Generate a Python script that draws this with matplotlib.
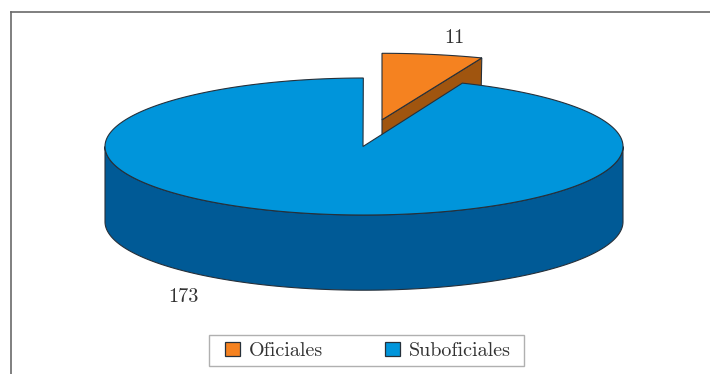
import numpy as np
import matplotlib
matplotlib.use("Agg")
import matplotlib.pyplot as plt
from matplotlib.patches import Polygon, Patch, Rectangle

categories = ["Oficiales", "Suboficiales"]
values = [11, 173]
top_colors = ["#F58220", "#0095DB"]
side_colors = ["#A0550F", "#005A96"]
edge = "#26303a"

W, H = 710, 374
fig = plt.figure(figsize=(W / 100, H / 100), dpi=100)
ax = fig.add_axes([10.5 / W, 0, 1 - 10.5 / W, (H - 12) / H])
ax.set_xlim(10.5, W)
ax.set_ylim(H, 12)
ax.set_xticks([])
ax.set_yticks([])
for s in ["right", "bottom"]:
    ax.spines[s].set_visible(False)
for s in ["left", "top"]:
    ax.spines[s].set_color("#6a6a6a")
    ax.spines[s].set_linewidth(1.2)

cx, cy, rx, ry, depth = 364.0, 146.5, 259.0, 68.5, 75.2
apex_x = 363.0
ox, oy, orx, ory = 382.0, 119.8, 272.0, 66.5

frac = values[0] / sum(values) * 360
a_end = 90 - frac  # orange runs clockwise from 12 o'clock
b_end = a_end - 0.8  # blue cut sits slightly further round in the projection


def arc(x0, y0, a, b, ra, rb, n=200):
    t = np.radians(np.linspace(a, b, n))
    return np.column_stack([x0 + ra * np.cos(t), y0 - rb * np.sin(t)])


lw = 0.8
# orange slice: side face (lower part hidden by the blue top)
p_a = arc(ox, oy, a_end, a_end, orx, ory, 1)[0]
ax.add_patch(Polygon([(ox, oy), p_a, (p_a[0] - 1.5, p_a[1] + depth), (ox, oy + depth)],
                     closed=True, fc=side_colors[0], ec=edge, lw=lw, zorder=2))
ax.add_patch(Polygon(np.vstack([[(ox, oy)], arc(ox, oy, a_end, 90, orx, ory)]),
                     closed=True, fc=top_colors[0], ec=edge, lw=lw, zorder=3))

# blue slice: side wall + top
front = arc(cx, cy, 180, 360, rx, ry)
back = arc(cx, cy + depth, 360, 180, rx, ry)
ax.add_patch(Polygon(np.vstack([front, back]), closed=True,
                     fc=side_colors[1], ec=edge, lw=lw, zorder=4))
ax.add_patch(Polygon(np.vstack([[(apex_x, cy)],
                                arc(cx, cy, 90 + 0.15, b_end + 360, rx, ry, 500)]),
                     closed=True, fc=top_colors[1], ec=edge, lw=lw, zorder=5))

font = dict(family="cmr10", color="#333333", fontsize=14.5)
ax.text(454.5, 38, str(values[0]), ha="center", va="center", zorder=6, **font)
ax.text(183, 297, str(values[1]), ha="center", va="center", zorder=6, **font)

# legend frame is wider than its padding would give
ax.add_patch(Rectangle((209, 335), 315, 31, fc="white", ec="#b0b0b0", lw=1.0, zorder=6))
handles = [Patch(fc=c, ec=edge, lw=0.9) for c in top_colors]
leg = ax.legend(handles, categories, ncol=2, loc="center",
                bbox_to_anchor=(368, 351), bbox_transform=ax.transData,
                prop={"family": "cmr10", "size": 14.5}, labelcolor="#333333",
                frameon=False,
                handlelength=0.74, handleheight=0.7, handletextpad=0.45,
                columnspacing=3.1, borderpad=0.35, borderaxespad=0)
leg.set_zorder(7)

fig.savefig("out.png", dpi=100)
